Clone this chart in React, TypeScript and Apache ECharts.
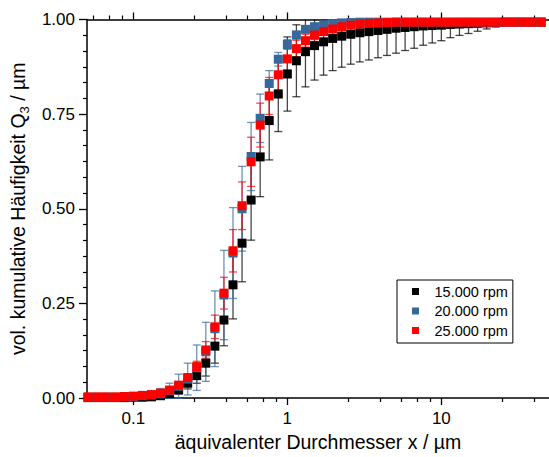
import React, { useEffect, useRef } from "react";
import * as echarts from "echarts";

// equivalent diameter classes (µm)
const sizes = [
  0.0508, 0.0582, 0.0666, 0.0763, 0.0873, 0.1, 0.1145, 0.1311, 0.1501, 0.1719,
  0.1968, 0.2254, 0.2581, 0.2955, 0.3384, 0.3875, 0.4437, 0.508, 0.5817, 0.6661,
  0.7627, 0.8733, 1.0, 1.145, 1.311, 1.501, 1.719, 1.968, 2.253, 2.58,
  2.955, 3.383, 3.874, 4.436, 5.079, 5.815, 6.659, 7.624, 8.73, 10.0,
  11.45, 13.11, 15.01, 17.19, 19.68, 22.53, 25.8, 29.55, 33.83, 38.74, 44.36,
];

// 15.000 rpm
const q15 = [
  0.001, 0.001, 0.001, 0.001, 0.001, 0.002, 0.002, 0.003, 0.006, 0.012,
  0.022, 0.039, 0.059, 0.092, 0.137, 0.206, 0.299, 0.409, 0.523, 0.637,
  0.733, 0.803, 0.856, 0.891, 0.915, 0.931, 0.941, 0.95, 0.956, 0.961,
  0.965, 0.968, 0.971, 0.974, 0.977, 0.979, 0.981, 0.983, 0.984, 0.985,
  0.987, 0.988, 0.989, 0.99, 0.991, 0.992, 0.993, 0.993, 0.993, 0.993, 0.993,
];
const e15 = [
  0.001, 0.001, 0.001, 0.001, 0.001, 0.001, 0.001, 0.002, 0.004, 0.007,
  0.012, 0.015, 0.02, 0.034, 0.045, 0.068, 0.09, 0.102, 0.106, 0.105,
  0.104, 0.099, 0.098, 0.095, 0.093, 0.091, 0.088, 0.085, 0.082, 0.079,
  0.077, 0.075, 0.072, 0.069, 0.066, 0.061, 0.057, 0.051, 0.046, 0.041,
  0.035, 0.03, 0.026, 0.021, 0.016, 0.012, 0.009, 0.006, 0.004, 0.003, 0.002,
];

// 20.000 rpm
const q20 = [
  0.002, 0.002, 0.002, 0.002, 0.003, 0.004, 0.006, 0.008, 0.011, 0.019,
  0.031, 0.05, 0.08, 0.122, 0.183, 0.272, 0.383, 0.5, 0.638, 0.739,
  0.831, 0.895, 0.934, 0.959, 0.974, 0.981, 0.986, 0.989, 0.991, 0.992,
  0.993, 0.993, 0.993, 0.993, 0.993, 0.993, 0.993, 0.993, 0.993, 0.993,
  0.993, 0.993, 0.993, 0.993, 0.993, 0.993, 0.993, 0.993, 0.993, 0.993, 0.993,
];
const e20 = [
  0.002, 0.002, 0.002, 0.002, 0.002, 0.002, 0.003, 0.006, 0.014, 0.02,
  0.032, 0.042, 0.06, 0.078, 0.1, 0.118, 0.12, 0.112, 0.09, 0.064,
  0.034, 0.018, 0.013, 0.01, 0.008, 0.006, 0.004, 0.003, 0.002, 0.002,
  0.002, 0.002, 0.002, 0.002, 0.002, 0.002, 0.002, 0.002, 0.002, 0.002,
  0.002, 0.002, 0.002, 0.002, 0.002, 0.002, 0.002, 0.002, 0.002, 0.002, 0.002,
];

// 25.000 rpm
const q25 = [
  0.003, 0.003, 0.003, 0.003, 0.004, 0.005, 0.007, 0.009, 0.013, 0.021,
  0.034, 0.054, 0.083, 0.127, 0.188, 0.277, 0.389, 0.508, 0.624, 0.721,
  0.798, 0.854, 0.896, 0.923, 0.944, 0.959, 0.968, 0.975, 0.981, 0.985,
  0.988, 0.99, 0.991, 0.992, 0.993, 0.993, 0.993, 0.993, 0.993, 0.993,
  0.993, 0.993, 0.993, 0.993, 0.993, 0.993, 0.993, 0.993, 0.993, 0.993, 0.993,
];
const e25 = [
  0.002, 0.002, 0.002, 0.002, 0.002, 0.002, 0.003, 0.003, 0.004, 0.006,
  0.008, 0.01, 0.014, 0.022, 0.031, 0.042, 0.056, 0.063, 0.065, 0.058,
  0.049, 0.04, 0.03, 0.022, 0.017, 0.012, 0.009, 0.007, 0.005, 0.004,
  0.003, 0.002, 0.002, 0.002, 0.002, 0.002, 0.002, 0.002, 0.002, 0.002,
  0.002, 0.002, 0.002, 0.002, 0.002, 0.002, 0.002, 0.002, 0.002, 0.002, 0.002,
];

const seriesNames = ["15.000 rpm", "20.000 rpm", "25.000 rpm"];
const seriesColors = ["#000000", "#36689c", "#ff0000"];
const errColors = ["rgba(0,0,0,0.72)", "rgba(54,104,156,0.72)", "rgba(255,0,0,0.72)"];
const majorXTicks = [0.1, 1, 10];
const minorXTicks = [0.055, 0.07, 0.085, 0.25, 0.4, 0.55, 0.7, 0.85, 2.5, 4, 5.5, 7, 8.5, 25, 40];
const xTitle = "äquivalenter Durchmesser x / µm";
const yTitle = "{a|vol. kumulative Häufigkeit Q}{s|3}{a| / µm}";
const yMax = 1;

const FONT = "'Liberation Sans', Arial, Helvetica, sans-serif";

export default function App() {
  const ref = useRef<HTMLDivElement>(null);
  useEffect(() => {
    if (!ref.current) return;
    const chart = echarts.init(ref.current, null, { renderer: "svg" });
    const means = [q15, q20, q25];
    const errs = [e15, e20, e25];

    const axisLine = { show: true, lineStyle: { color: "#000", width: 1.5 } };
    const baseX = { type: "log", logBase: 10, min: 0.05, max: 50, gridIndex: 0, splitLine: { show: false } };

    const errSeries = means.map((m, s) => ({
      type: "custom",
      name: "err" + s,
      xAxisIndex: 0,
      yAxisIndex: 0,
      encode: { x: 0, y: [1, 2] },
      data: sizes.map((x, i) => [x, m[i] - errs[s][i], Math.min(m[i] + errs[s][i], yMax)]),
      renderItem: (params: any, api: any) => {
        const x = api.value(0);
        const hiVal = api.value(2);
        const p1 = api.coord([x, api.value(1)]);
        const p2 = api.coord([x, hiVal]);
        const hw = 4;
        const style = { stroke: errColors[s], lineWidth: 1.3, fill: null };
        const children: any[] = [
          { type: "line", shape: { x1: p1[0], y1: p1[1], x2: p2[0], y2: p2[1] }, style },
          { type: "line", shape: { x1: p1[0] - hw, y1: p1[1], x2: p1[0] + hw, y2: p1[1] }, style },
        ];
        if (hiVal < yMax) {
          children.push({ type: "line", shape: { x1: p2[0] - hw, y1: p2[1], x2: p2[0] + hw, y2: p2[1] }, style });
        }
        return { type: "group", children };
      },
    }));

    const scatterSeries = means.map((m, s) => ({
      type: "scatter",
      name: seriesNames[s],
      xAxisIndex: 0,
      yAxisIndex: 0,
      symbol: "rect",
      symbolSize: 9,
      itemStyle: { color: seriesColors[s], opacity: 1 },
      data: sizes.map((x, i) => [x, m[i]]),
    }));

    chart.setOption({
      animation: false,
      backgroundColor: "#fff",
      textStyle: { fontFamily: FONT },
      grid: { left: 80.7, top: 19.5, width: 470, height: 378.5, containLabel: false },
      legend: {
        data: seriesNames,
        orient: "vertical",
        left: 397,
        top: 280,
        padding: [4, 5, 5, 15],
        itemGap: 4.5,
        itemWidth: 28,
        itemHeight: 7,
        icon: "path://M0,0L10,0L10,10L0,10Z",
        symbolKeepAspect: true,
        borderColor: "#000",
        borderWidth: 1,
        borderRadius: 0,
        textStyle: { fontSize: 14.5, color: "#000", fontFamily: FONT },
      },
      xAxis: [
        {
          ...baseX,
          position: "bottom",
          axisLine,
          axisTick: { show: true, customValues: majorXTicks, length: 7, lineStyle: { color: "#000", width: 1.3 } },
          axisLabel: {
            show: true,
            customValues: majorXTicks,
            formatter: (v: number) => String(v),
            fontSize: 17,
            color: "#000",
            margin: 12,
            fontFamily: FONT,
          },
          name: xTitle,
          nameLocation: "middle",
          nameGap: 31,
          nameTextStyle: { fontSize: 19.5, color: "#000", fontFamily: FONT },
        },
        {
          ...baseX,
          position: "bottom",
          axisLine: { show: false },
          axisTick: { show: true, customValues: minorXTicks, length: 4, lineStyle: { color: "#000", width: 1.2 } },
          axisLabel: { show: false },
        },
        {
          ...baseX,
          position: "top",
          axisLine,
          axisTick: { show: true, customValues: majorXTicks, length: 7, lineStyle: { color: "#000", width: 1.3 } },
          axisLabel: { show: false },
        },
        {
          ...baseX,
          position: "top",
          axisLine: { show: false },
          axisTick: { show: true, customValues: minorXTicks, length: 4, lineStyle: { color: "#000", width: 1.2 } },
          axisLabel: { show: false },
        },
      ],
      yAxis: [
        {
          type: "value",
          min: 0,
          max: yMax,
          interval: 0.25,
          position: "left",
          axisLine,
          axisTick: { show: true, length: 8, lineStyle: { color: "#000", width: 1.3 } },
          minorTick: { show: true, splitNumber: 6, length: 4, lineStyle: { color: "#000", width: 1.2 } },
          splitLine: { show: false },
          axisLabel: {
            formatter: (v: number) => v.toFixed(2),
            fontSize: 17,
            color: "#000",
            margin: 12,
            fontFamily: FONT,
          },
          name: yTitle,
          nameLocation: "middle",
          nameRotate: 90,
          nameGap: 46,
          nameTextStyle: {
            color: "#000",
            fontFamily: FONT,
            rich: {
              a: { fontSize: 19.5, color: "#000", fontFamily: FONT, lineHeight: 26, verticalAlign: "middle" },
              s: { fontSize: 13, color: "#000", fontFamily: FONT, lineHeight: 13, verticalAlign: "bottom" },
            },
          },
        },
      ],
      series: [...errSeries, ...scatterSeries],
    });
    return () => chart.dispose();
  }, []);
  return (
    <div
      ref={ref}
      style={{ position: "absolute", left: 0, top: 0, width: 549, height: 457, background: "#fff" }}
    />
  );
}
